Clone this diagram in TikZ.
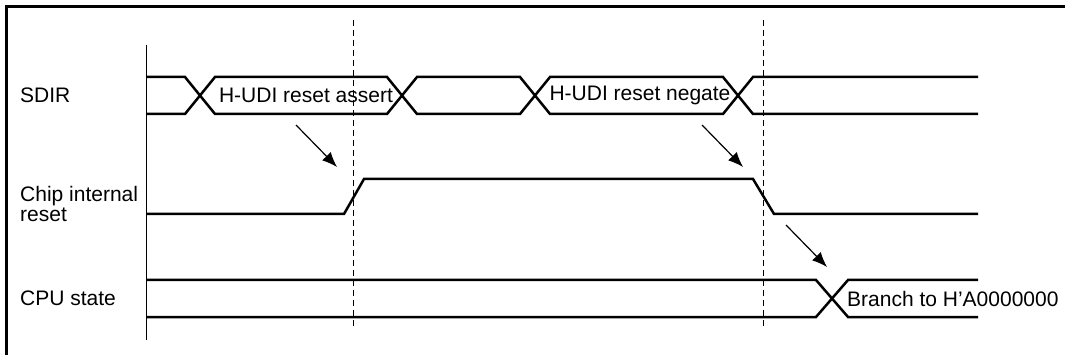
\documentclass[tikz,border=0pt]{standalone}
\usepackage{fontspec}
\setmainfont{Liberation Sans}
\usetikzlibrary{arrows.meta}
\begin{document}
\begin{tikzpicture}[x=1pt,y=-1pt,
  sig/.style={line width=2.5pt,line join=miter},
  frame/.style={line width=2.5pt},
  axis/.style={line width=1pt},
  guide/.style={line width=1pt,dash pattern=on 6pt off 4pt},
  cause/.style={line width=1.2pt,-{Latex[length=15pt,width=12pt]}},
  lbl/.style={font=\fontsize{21}{20}\selectfont,inner sep=0pt,anchor=west,align=left},
  txt/.style={font=\fontsize{21}{23}\selectfont,inner sep=0pt}
]
\useasboundingbox (0,0) rectangle (1065,355);
% frame (only top and left edges visible)
\draw[frame] (1066,6.5) -- (6.5,6.5) -- (6.5,356);
% time axis
\draw[axis] (146,45) -- (146,340);
% guide lines
\draw[guide] (353,20) -- (353,328);
\draw[guide] (763,20) -- (763,328);

% labels
\node[lbl] (lsdir) at (20,95) {SDIR};
\node[lbl] (lchip) at (20,204) {Chip internal\\reset};
\node[lbl] (lcpu) at (20,298) {CPU state};

% SDIR bus
\draw[sig] (146,77) -- (185,77) -- (215,114) -- (387,114) -- (417,77) -- (520,77) -- (550,114) -- (723,114) -- (753,77) -- (978,77);
\draw[sig] (146,114) -- (185,114) -- (215,77) -- (387,77) -- (417,114) -- (520,114) -- (550,77) -- (723,77) -- (753,114) -- (978,114);
\node[txt] (tassert) at (306,95.5) {H-UDI reset assert};
\node[txt] (tnegate) at (640,95.5) {H-UDI reset negate};

% chip internal reset
\draw[sig] (146,214) -- (344,214) -- (364,179) -- (753,179) -- (774,214) -- (978,214);

% CPU state
\draw[sig] (146,280) -- (816,280) -- (848,317) -- (978,317);
\draw[sig] (146,317) -- (816,317) -- (848,280) -- (978,280);
\node[txt,anchor=west] (tbranch) at (847,298.5) {Branch to H{\char39}A0000000};

% cause arrows
\coordinate (a1s) at (296,125); \coordinate (a1e) at (337,167);
\coordinate (a2s) at (702,125); \coordinate (a2e) at (743,167);
\coordinate (a3s) at (786,225); \coordinate (a3e) at (827,267);
\draw[cause] (a1s) -- (a1e);
\draw[cause] (a2s) -- (a2e);
\draw[cause] (a3s) -- (a3e);
\end{tikzpicture}
\end{document}
